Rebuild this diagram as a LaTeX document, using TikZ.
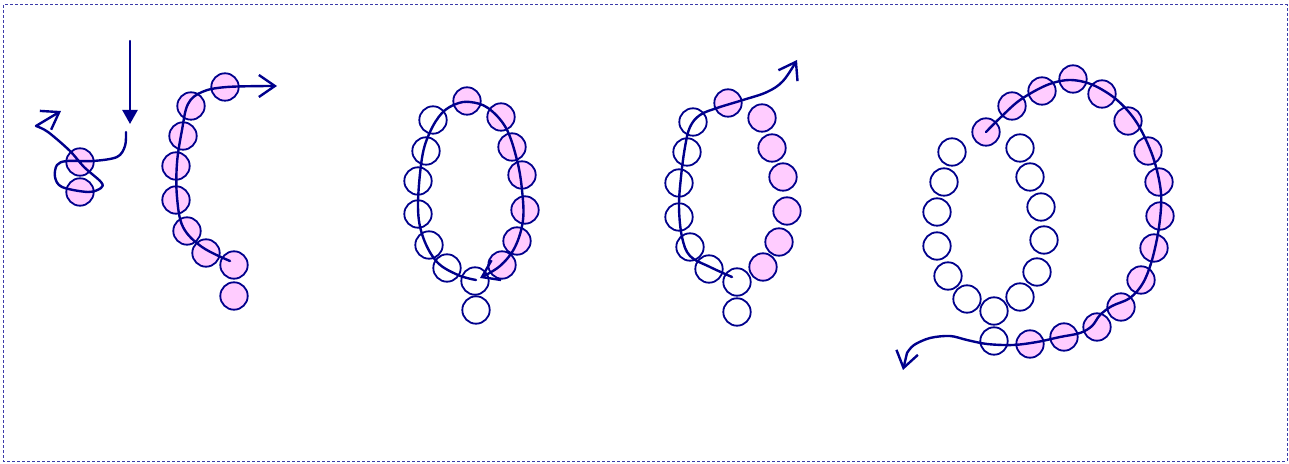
\documentclass[tikz,border=0pt]{standalone}
\usetikzlibrary{arrows.meta}
\definecolor{navy}{RGB}{0,0,140}
\definecolor{beadpink}{RGB}{255,204,255}
\definecolor{framecol}{RGB}{60,60,170}
\tikzset{
  bead/.style={circle,draw=navy,line width=0.9pt,minimum size=13.7pt,inner sep=0pt},
  pbead/.style={bead,fill=beadpink},
  wbead/.style={bead,fill=white},
  chain/.style={draw=navy,line width=1.2pt,line cap=round,line join=round},
  barb/.style={-{Straight Barb[length=8pt,width=11pt,line width=1.2pt]}},
}
\begin{document}
\begin{tikzpicture}[x=0.5pt,y=-0.5pt]
\useasboundingbox (0,0) rectangle (1289,464);
\draw[framecol,line width=0.5pt,dash pattern=on 1.5pt off 1pt] (3,5) rectangle (1287,461);

% group 1
\node[pbead] (a1) at (80,162) {};
\node[pbead] (a2) at (80,192) {};
\coordinate (dstart) at (130,41);
\coordinate (dend) at (130,124);
\draw[chain,-{Triangle[length=7pt,width=7.5pt]}] (dstart) -- (dend);
\draw[chain,barb] plot[smooth,tension=0.55] coordinates {(126,132) (125,146) (117,157) (93,161) (67,161) (57,165) (55,177) (62,187) (88,192) (101,188) (101,182) (84,167) (70,151) (48,132) (36,126)} -- (61,111);

% group 2
\foreach \i/\p in {1/{(225,87)},2/{(191,106)},3/{(183,136)},4/{(176,166)},5/{(176,200)},6/{(187,231)},7/{(206,253)},8/{(234,265)},9/{(234,296)}}
  \node[pbead] (b\i) at \p {};
\draw[chain,barb] plot[smooth,tension=0.6] coordinates {(230,261) (202,247) (183,227) (177,197) (177,163) (182,130) (188,104) (202,92) (227,87) (277,86)};

% group 3
\foreach \i/\p in {1/{(467,101)},2/{(501,117)},3/{(512,147)},4/{(522,175)},5/{(525,210)},6/{(517,241)},7/{(502,265)}}
  \node[pbead] (c\i) at \p {};
\foreach \i/\p in {1/{(433,120)},2/{(426,151)},3/{(418,181)},4/{(418,214)},5/{(429,245)},6/{(447,268)},7/{(475,281)},8/{(476,310)}}
  \node[wbead] (cw\i) at \p {};
\draw[chain,barb] plot[smooth,tension=0.6] coordinates {(476,280) (458,275) (437,262) (423,237) (418,207) (422,158) (430,132) (442,113) (456,104) (470,102) (488,108) (506,128) (517,160) (522,190) (523,220) (515,247) (500,266) (480,278)};

% group 4
\foreach \i/\p in {1/{(728,103)},2/{(762,118)},3/{(772,148)},4/{(783,177)},5/{(787,211)},6/{(779,242)},7/{(763,267)}}
  \node[pbead] (d\i) at \p {};
\foreach \i/\p in {1/{(693,122)},2/{(687,152)},3/{(679,183)},4/{(679,217)},5/{(690,247)},6/{(709,269)},7/{(737,282)},8/{(737,312)}}
  \node[wbead] (dw\i) at \p {};
\draw[chain,barb] plot[smooth,tension=0.6] coordinates {(732,277) (710,267) (690,256) (682,237) (679,207) (681,177) (685,147) (690,127) (700,115) (717,108) (743,100) (767,92) (783,81) (797,60)};

% group 5
\foreach \i/\p in {1/{(986,132)},2/{(1012,106)},3/{(1042,91)},4/{(1073,79)},5/{(1102,94)},6/{(1128,121)},7/{(1148,151)},8/{(1159,182)},9/{(1160,216)},10/{(1154,248)},11/{(1141,280)},12/{(1121,307)},13/{(1097,327)},14/{(1064,337)},15/{(1030,344)}}
  \node[pbead] (e\i) at \p {};
\foreach \i/\p in {1/{(994,341)},2/{(994,311)},3/{(967,299)},4/{(948,276)},5/{(937,246)},6/{(937,212)},7/{(944,182)},8/{(952,152)},9/{(1020,148)},10/{(1030,177)},11/{(1041,207)},12/{(1044,240)},13/{(1037,272)},14/{(1020,297)}}
  \node[wbead] (ew\i) at \p {};
\draw[chain,barb] plot[smooth,tension=0.55] coordinates {(986,132) (1000,118) (1020,100) (1047,85) (1070,80) (1093,85) (1117,100) (1137,123) (1153,157) (1161,193) (1159,227) (1152,260) (1143,283) (1130,298) (1112,306) (1100,315) (1092,326) (1080,333) (1060,337) (1037,342) (1013,345) (987,344) (967,340) (950,336) (930,338) (914,345) (907,353)} -- (903,370);
\end{tikzpicture}
\end{document}
